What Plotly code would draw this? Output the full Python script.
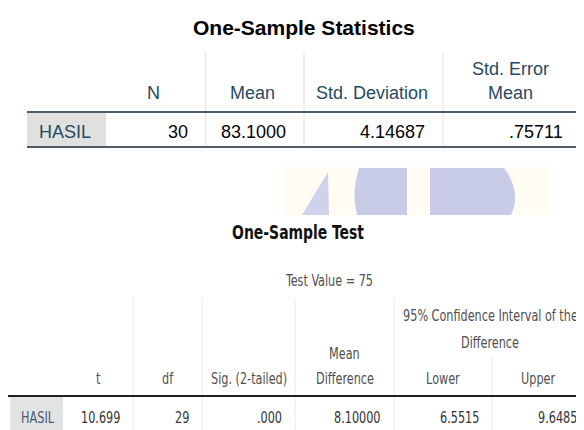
import json
import plotly.graph_objects as go

# ---------------- data ----------------
row_label = "HASIL"

stats_headers = ["N", "Mean", "Std. Deviation", "Std. Error<br>Mean"]
stats_n = 30
stats_mean = 83.1000
stats_sd = 4.14687
stats_se = 0.75711

test_value = 75
test_headers = ["t", "df", "Sig. (2-tailed)", "Mean<br>Difference", "Lower", "Upper"]
ci_header = ["95% Confidence Interval of the", "Difference"]
test_t = 10.699
test_df = 29
test_sig = 0.000
test_mean_diff = 8.10000
test_lower = 6.5515
test_upper = 9.6485


def spss_fmt(v, d):
    s = f"{v:.{d}f}"
    if s.startswith("0."):
        s = s[1:]
    return s


stats_values = [str(stats_n), spss_fmt(stats_mean, 4), spss_fmt(stats_sd, 5), spss_fmt(stats_se, 5)]
test_values = [spss_fmt(test_t, 3), str(test_df), spss_fmt(test_sig, 3),
               spss_fmt(test_mean_diff, 5), spss_fmt(test_lower, 4), spss_fmt(test_upper, 4)]

# ---------------- layout (pixel geometry) ----------------
W, H = 584, 430
OFF = 8  # page body margin compensation
FONT_A = "Liberation Sans, Arial, sans-serif"
FONT_N = "DejaVu Sans Condensed, Liberation Sans Narrow, Arial Narrow, sans-serif"
SZ_N = 12.5
NARROW = 0.78  # horizontal squeeze for the second (condensed) table

top_edges = [27, 106, 205.7, 304, 443, 581]
bot_edges = [8, 63, 133, 202, 295, 394, 492, 590]

shapes = []
ann = []
narrow_idx = []


def line(x0, y0, x1, y1, color, width):
    shapes.append(dict(type="line", xref="x", yref="y", x0=x0, y0=y0, x1=x1, y1=y1,
                       line=dict(color=color, width=width), layer="above"))


def rect(x0, y0, x1, y1, fill):
    shapes.append(dict(type="rect", xref="x", yref="y", x0=x0, y0=y0, x1=x1, y1=y1,
                       fillcolor=fill, line=dict(width=0), layer="below"))


def text(x, y, s, size, color, family, anchor="center", bold=False, narrow=False):
    if narrow:
        narrow_idx.append(len(ann))
    ann.append(dict(x=x, y=y, xref="x", yref="y", text=(f"<b>{s}</b>" if bold else s),
                    showarrow=False, xanchor=anchor, yanchor="middle",
                    font=dict(size=size, color=color, family=family)))


# ---- watermark ----
rect(283, 167, 550, 215, "#fffdf3")
shapes.append(dict(type="path", xref="x", yref="y", path="M 302 215 L 328 172 L 329 215 Z",
                   fillcolor="#cfd2ea", line=dict(width=0), layer="below"))
shapes.append(dict(type="path", xref="x", yref="y",
                   path="M 359 168 L 407 168 L 407 215 L 357 215 Q 351 192 359 168 Z",
                   fillcolor="#c9cce7", line=dict(width=0), layer="below"))
shapes.append(dict(type="path", xref="x", yref="y",
                   path="M 430 168 L 504 168 Q 522 192 511 215 L 430 215 Z",
                   fillcolor="#c9cce7", line=dict(width=0), layer="below"))

# ---- table 1: One-Sample Statistics ----
HEAD_C = "#264a60"
DATA_C = "#010205"
text(304, 27, "One-Sample Statistics", 21, "#000000", FONT_A, bold=True)
for i in range(2, 5):
    line(top_edges[i], 53, top_edges[i], 147, "#e0e0e0", 1)
rect(top_edges[0], 112, top_edges[1], 147, "#e0e0e0")
line(top_edges[0], 112, W + OFF, 112, "#4f5d69", 2)
line(top_edges[0], 147, W + OFF, 147, "#4f5d69", 2)
for j, h in enumerate(stats_headers):
    cx = (top_edges[j + 1] + top_edges[j + 2]) / 2 - 2
    parts = h.split("<br>")
    ys = [93] if len(parts) == 1 else [69, 93]
    for p, yy in zip(parts, ys):
        text(cx, yy, p, 18, HEAD_C, FONT_A)
text((top_edges[0] + top_edges[1]) / 2 - 2, 132, row_label, 18, HEAD_C, FONT_A)
for j, v in enumerate(stats_values):
    text(top_edges[j + 2] - 16, 132, v, 18, DATA_C, FONT_A, anchor="right")

# ---- table 2: One-Sample Test ----
HEAD2 = "#505050"
DATA2 = "#333333"
DY = 1
text(298, 233 + DY, "One-Sample Test", 15.5, "#111111", FONT_N, bold=True, narrow=True)
text((bot_edges[1] + bot_edges[-1]) / 2 + 2, 280 + DY, f"Test Value = {test_value}", SZ_N, HEAD2, FONT_N, narrow=True)
for i in range(2, 6):
    line(bot_edges[i], 298, bot_edges[i], H + OFF, "#ececec", 1)
line(bot_edges[6], 356, bot_edges[6], H + OFF, "#ececec", 1)
rect(bot_edges[0] + 2, 397, bot_edges[1], H + OFF, "#e2e3e4")
line(bot_edges[0], 396, W + OFF, 396, "#1e1e1e", 2)
for j, h in enumerate(test_headers):
    cx = (bot_edges[j + 1] + bot_edges[j + 2]) / 2
    if j == 5:
        cx = (bot_edges[6] + 584) / 2
    parts = h.split("<br>")
    ys = [378] if len(parts) == 1 else [353, 378]
    for p, yy in zip(parts, ys):
        text(cx, yy + DY, p, SZ_N, HEAD2, FONT_N, narrow=True)
ci_cx = (bot_edges[5] + 584) / 2 + 1
text(ci_cx, 315 + DY, ci_header[0], SZ_N, HEAD2, FONT_N, narrow=True)
text(ci_cx, 342 + DY, ci_header[1], SZ_N, HEAD2, FONT_N, narrow=True)
text((bot_edges[0] + bot_edges[1]) / 2 + 2, 417 + DY, row_label, SZ_N, "#4a5a70", FONT_N, narrow=True)
for j, v in enumerate(test_values):
    text(bot_edges[j + 2] - 11, 417 + DY, v, SZ_N, DATA2, FONT_N, anchor="right", narrow=True)

fig = go.Figure()
fig.update_layout(
    width=W, height=H, margin=dict(l=0, r=0, t=0, b=0),
    paper_bgcolor="white", plot_bgcolor="white",
    xaxis=dict(range=[OFF, W + OFF], visible=False, fixedrange=True),
    yaxis=dict(range=[H + OFF, OFF], visible=False, fixedrange=True),
    shapes=shapes, annotations=ann, showlegend=False,
)

# Condensed look for the second table: enlarge glyphs and squeeze horizontally so
# the text keeps the same width and anchor position.
post = (
    "var gd=document.getElementById('{plot_id}');"
    "var idx=" + json.dumps(narrow_idx) + ";var k=" + str(NARROW) + ";"
    "gd.querySelectorAll('g.annotation').forEach(function(g){"
    "var i=+g.getAttribute('data-index');if(idx.indexOf(i)<0)return;"
    "var t=g.querySelector('text.annotation-text');if(!t)return;"
    "var fs=parseFloat(t.style.fontSize||'12');"
    "t.style.fontSize=(fs/k)+'px';"
    "t.style.transformBox='fill-box';t.style.transformOrigin='center';"
    "t.style.transform='scaleX('+k+')';});"
)
fig.write_html("out.html", post_script=post)
